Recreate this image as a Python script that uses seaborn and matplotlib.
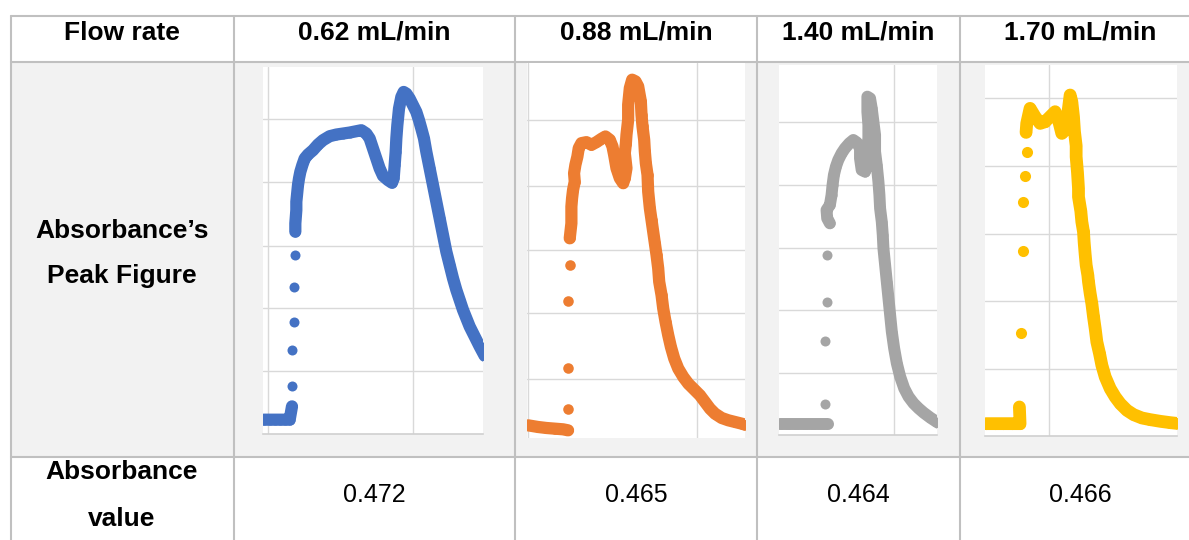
import numpy as np
import pandas as pd
import matplotlib
matplotlib.use("Agg")
import matplotlib.pyplot as plt
import seaborn as sns
from matplotlib.patches import Rectangle

# ---------------- data ----------------
flow_rates = ["0.62 mL/min", "0.88 mL/min", "1.40 mL/min", "1.70 mL/min"]
absorbance_values = ["0.472", "0.465", "0.464", "0.466"]
series_colors = ["#4472C4", "#ED7D31", "#A5A5A5", "#FFC000"]

# 0.62 mL/min  (time, signal)
t_062 = [102, 120, 135, 150, 165, 180, 187, 188, 188, 193, 193, 197,
         197, 197, 200, 200, 203, 205, 208, 212, 218, 225,
         235, 250, 265, 280, 300, 320, 340, 360, 380, 395,
         410, 420, 430, 440, 450, 460, 475, 487, 492, 495,
         498, 500, 503, 508, 515, 522, 530, 540, 550, 560,
         568, 575, 583, 590, 600, 610, 620, 630, 640, 650,
         660, 670, 680, 690, 700, 710, 720, 730, 740, 750,
         758, 765]
a_062 = [43, 43, 43, 43, 43, 43, 83, 143, 251, 338, 443, 538,
         608, 633, 673, 698, 728, 748, 768, 788, 808, 828,
         840, 853, 870, 883, 895, 900, 903, 906, 910, 913,
         903, 888, 858, 828, 798, 776, 763, 755, 768, 808,
         848, 888, 928, 978, 1013, 1028, 1023, 1008, 988, 968,
         943, 918, 888, 848, 798, 748, 698, 648, 598, 548,
         508, 468, 433, 403, 373, 348, 323, 303, 283, 263,
         248, 235]

# 0.88 mL/min
t_088 = [40, 70, 95, 120, 145, 160, 160, 160, 160, 165, 165,
         170, 170, 170, 172, 175, 180, 178, 182, 188, 192,
         200, 215, 230, 245, 260, 272, 285, 293, 298, 305,
         315, 325, 330, 335, 330, 333, 335, 340, 340, 345,
         352, 362, 370, 378, 380, 383, 388, 390, 393, 398,
         400, 405, 410, 415, 420, 425, 430, 433, 440, 445,
         452, 460, 468, 478, 490, 505, 520, 540, 555, 570,
         585, 600, 620, 640, 660, 680, 690]
a_088 = [38, 33, 30, 28, 26, 23, 86, 211, 411, 518, 598,
         643, 668, 693, 718, 743, 768, 793, 818, 843, 868,
         883, 886, 878, 886, 896, 903, 893, 873, 848, 808,
         778, 763, 778, 808, 853, 880, 908, 953, 998, 1048,
         1073, 1068, 1053, 1008, 968, 933, 893, 858, 823, 788,
         738, 688, 653, 618, 583, 548, 508, 468, 428, 388,
         348, 308, 273, 238, 208, 183, 163, 143, 128, 108,
         88, 73, 60, 53, 48, 43, 40]

# 1.40 mL/min
t_140 = [90, 115, 140, 165, 190, 215, 235, 225, 225, 230, 230,
         240, 232, 230, 240, 245, 248, 252, 258, 265, 275,
         285, 298, 310, 320, 330, 330, 335, 345, 352, 350,
         355, 355, 352, 352, 360, 365, 370, 375, 375, 380,
         385, 388, 390, 395, 398, 400, 405, 410, 415, 420,
         425, 432, 440, 450, 462, 475, 490, 505, 520, 540,
         558, 565]
a_140 = [32, 32, 32, 32, 32, 32, 32, 92, 282, 400, 540,
         635, 650, 675, 690, 720, 750, 780, 805, 825, 845,
         860, 875, 885, 878, 860, 830, 795, 790, 810, 850,
         890, 930, 970, 1015, 1010, 980, 940, 900, 850, 810,
         760, 720, 680, 640, 600, 560, 510, 460, 410, 360,
         310, 260, 215, 175, 140, 115, 95, 80, 67, 52,
         40, 36]

# 1.70 mL/min
t_170 = [78, 105, 130, 155, 180, 178, 183, 188, 190, 195, 200, 198,
         200, 210, 225, 240, 255, 270, 285, 295, 305, 315,
         320, 325, 330, 335, 340, 343, 348, 348, 352, 355,
         355, 362, 365, 370, 372, 375, 378, 383, 385, 390,
         395, 400, 405, 410, 418, 425, 435, 450, 465, 480,
         500, 520, 545, 570, 600, 630, 648, 655]
a_170 = [37, 37, 37, 37, 37, 87, 310, 554, 702, 780, 850, 910,
         937, 982, 957, 937, 942, 957, 972, 947, 907, 917,
         947, 982, 1022, 1002, 957, 912, 870, 837, 790, 742,
         717, 674, 642, 612, 580, 544, 512, 482, 462, 427,
         397, 357, 322, 282, 247, 212, 177, 142, 117, 97,
         77, 64, 54, 49, 44, 40, 38, 37]

series_t = [t_062, t_088, t_140, t_170]
series_a = [a_062, a_088, a_140, a_170]

# ---------------- styling / layout ----------------
W, H = 1189, 540
sns.set_theme(style="white")
plt.rcParams["font.family"] = ["Liberation Sans", "DejaVu Sans"]
plt.rcParams["text.color"] = "black"

fig = plt.figure(figsize=(W / 100, H / 100), dpi=100)
fig.patch.set_facecolor("white")

bg = fig.add_axes([0, 0, 1, 1], zorder=0)
bg.set_xlim(0, W)
bg.set_ylim(H, 0)
bg.axis("off")

border = "#c0c0c0"
cell_gray = "#f2f2f2"
x_left, col_edges = 11, [234, 515, 757, 960]
y_top, y_row1, y_row2 = 16, 62, 457

bg.add_patch(Rectangle((x_left, y_row1), W - x_left, y_row2 - y_row1,
                       facecolor=cell_gray, edgecolor="none"))
lw_b = 1.5
bg.plot([x_left, W], [y_top, y_top], color=border, lw=lw_b)
bg.plot([x_left, W], [y_row1, y_row1], color=border, lw=lw_b)
bg.plot([x_left, W], [y_row2, y_row2], color=border, lw=lw_b)
for xe in [x_left] + col_edges:
    bg.plot([xe, xe], [y_top, H], color=border, lw=lw_b)

fs_b, fs_r = 19, 18
tk = dict(ha="center", va="center", color="black")
bg.text(122, 33, "Flow rate", fontsize=fs_b, fontweight="bold", **tk)
bg.text(122, 231, "Absorbance’s", fontsize=fs_b, fontweight="bold", **tk)
bg.text(122, 276, "Peak Figure", fontsize=fs_b, fontweight="bold", **tk)
bg.text(122, 472, "Absorbance", fontsize=fs_b, fontweight="bold", **tk)
bg.text(122, 519, "value", fontsize=fs_b, fontweight="bold", **tk)

col_centers = [374.5, 636, 858.5, 1080]
for cx, fr, av in zip(col_centers, flow_rates, absorbance_values):
    bg.text(cx, 33, fr, fontsize=fs_b, fontweight="bold", **tk)
    bg.text(cx, 495, av, fontsize=fs_r, **tk)

# plot boxes in figure pixels: left, right, top, bottom
boxes = [(263, 483, 67, 434), (527, 745, 63, 438), (779, 937, 65, 435), (985, 1177, 65, 436)]
xlims = [(100, 760), (37, 690), (88, 560), (75, 650)]
ylims = [(0, 1103), (0, 1123), (0, 1110), (0, 1112)]
vgrids = [[115, 550], [40, 546], [433], [266]]
hgrids = [[190, 380, 566, 758, 948], [178, 373, 563, 756, 951],
          [185, 375, 562, 750, 940], [202, 404, 605, 809, 1014]]
show_base = [True, False, True, True]
dot_d = [7.2, 7.6, 7.2, 8.0]     # marker diameter, points
band_w = [8.8, 8.8, 8.6, 9.2]    # width of the merged run of markers, points


def segment_ids(x, y, gap=58):
    seg = [0]
    for i in range(1, len(x)):
        d = np.hypot(x[i] - x[i - 1], y[i] - y[i - 1])
        seg.append(seg[-1] + int(d > gap))
    return seg


for i in range(4):
    l, r, t, b = boxes[i]
    ax = fig.add_axes([l / W, (H - b) / H, (r - l) / W, (b - t) / H], zorder=2)
    ax.set_facecolor("white")
    df = pd.DataFrame({"time": series_t[i], "signal": series_a[i]})
    df["seg"] = segment_ids(df["time"].values, df["signal"].values)
    counts = df["seg"].map(df["seg"].value_counts())
    dense = df[counts > 1]
    c = series_colors[i]
    sns.lineplot(data=dense, x="time", y="signal", units="seg", estimator=None,
                 sort=False, color=c, lw=band_w[i], solid_capstyle="round",
                 solid_joinstyle="round", ax=ax, legend=False, zorder=3)
    sns.scatterplot(data=df, x="time", y="signal", color=c, s=dot_d[i] ** 2,
                    linewidth=0, ax=ax, legend=False, zorder=4)
    ax.set_xlim(*xlims[i])
    ax.set_ylim(*ylims[i])
    ax.set_xticks(vgrids[i])
    ax.set_yticks(hgrids[i])
    ax.grid(True, color="#d9d9d9", lw=1.0)
    ax.tick_params(length=0, labelbottom=False, labelleft=False)
    ax.set_xlabel("")
    ax.set_ylabel("")
    for side in ["top", "left", "right"]:
        ax.spines[side].set_visible(False)
    if show_base[i]:
        ax.spines["bottom"].set_color("#d0d0d0")
        ax.spines["bottom"].set_linewidth(1.2)
    else:
        ax.spines["bottom"].set_visible(False)

fig.savefig("out.png", dpi=100)
